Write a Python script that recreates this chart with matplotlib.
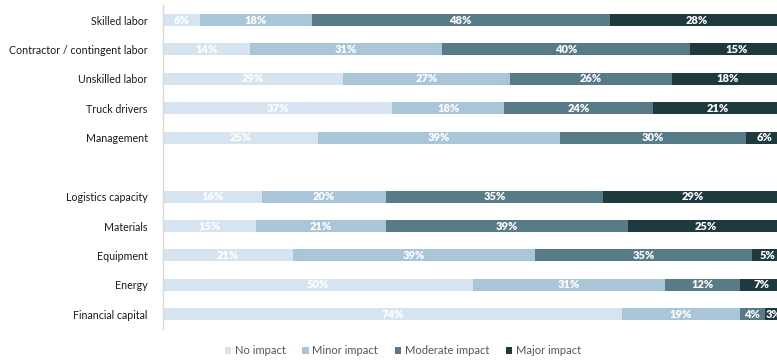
import matplotlib.pyplot as plt
import numpy as np

plt.rcParams['font.family'] = ['Lato', 'DejaVu Sans']

# categories top to bottom; None leaves an empty slot between the two groups
categories = ['Skilled labor', 'Contractor / contingent labor', 'Unskilled labor',
              'Truck drivers', 'Management', None,
              'Logistics capacity', 'Materials', 'Equipment', 'Energy',
              'Financial capital']

levels = ['No impact', 'Minor impact', 'Moderate impact', 'Major impact']
no_impact = [6, 14, 29, 37, 25, None, 16, 15, 21, 50, 74]
minor_impact = [18, 31, 27, 18, 39, None, 20, 21, 39, 31, 19]
moderate_impact = [48, 40, 26, 24, 30, None, 35, 39, 35, 12, 4]
major_impact = [28, 15, 18, 21, 6, None, 29, 25, 5, 7, 3]

colors = ['#d5e4f0', '#a9c5d8', '#587b88', '#1e3a3f']

fig = plt.figure(figsize=(7.77, 3.62), dpi=100)
ax = fig.add_axes([163 / 777, 1 - 329 / 362, 1 - 163 / 777, (329 - 5.3) / 362])

rows = [i for i, c in enumerate(categories) if c is not None]
series = [no_impact, minor_impact, moderate_impact, major_impact]

left = np.zeros(len(rows))
for name, vals, col in zip(levels, series, colors):
    v = np.array([vals[i] for i in rows], dtype=float)
    ax.barh(rows, v, left=left, height=0.41, color=col, label=name)
    for y, l, w in zip(rows, left, v):
        ax.text(l + w / 2, y, f'{int(w)}%', ha='center', va='center',
                color='white', fontsize=8, fontweight='heavy')
    left += v

ax.set_xlim(0, 99.0)
ax.set_ylim(10.5, -0.5)
ax.set_yticks(rows)
ax.set_yticklabels([categories[i] for i in rows], fontsize=7.7, color='#1a1a1a')
ax.tick_params(axis='y', length=0, pad=11)
ax.set_xticks([])
for s in ['top', 'right', 'bottom']:
    ax.spines[s].set_visible(False)
ax.spines['left'].set_color('#d9d9d9')
ax.spines['left'].set_linewidth(1)

fig.legend(loc='center', bbox_to_anchor=(403 / 777, 1 - 351 / 362), ncol=4,
           frameon=False, fontsize=8, handlelength=0.55, handleheight=0.55,
           handletextpad=0.35, columnspacing=1.5, labelcolor='#555555')

fig.savefig('out.png', dpi=100)
